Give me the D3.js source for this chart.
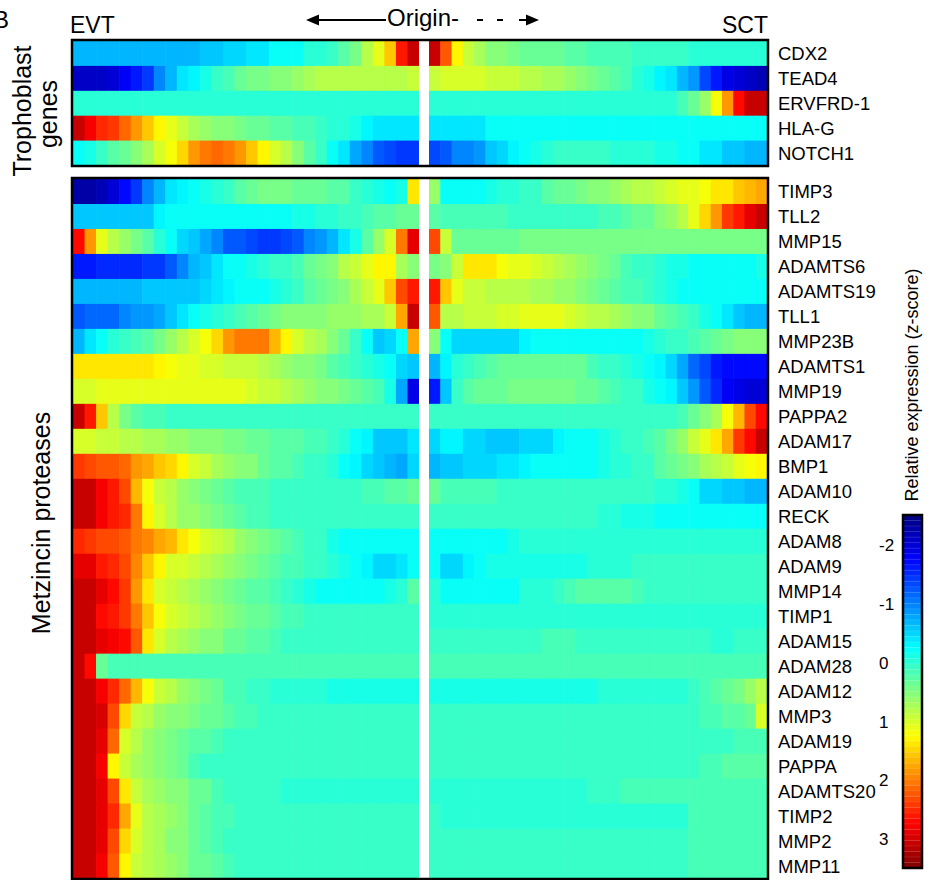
<!DOCTYPE html>
<html>
<head>
<meta charset="utf-8">
<script src="https://cdn.jsdelivr.net/npm/d3@7"></script>
<style>
  body { margin: 0; background: #fff; }
  svg text { font-family: Arial, "Liberation Sans", sans-serif; fill: #000; }
</style>
</head>
<body>
<svg id="chart" width="939" height="880"></svg>
<script>
// gene names (rows)
const trophoblastGenes = ["CDX2", "TEAD4", "ERVFRD-1", "HLA-G", "NOTCH1"];
const metzincinGenes = ["TIMP3", "TLL2", "MMP15", "ADAMTS6", "ADAMTS19", "TLL1", "MMP23B", "ADAMTS1",
  "MMP19", "PAPPA2", "ADAM17", "BMP1", "ADAM10", "RECK", "ADAM8", "ADAM9", "MMP14", "TIMP1",
  "ADAM15", "ADAM28", "ADAM12", "MMP3", "ADAM19", "PAPPA", "ADAMTS20", "TIMP2", "MMP2", "MMP11"];

// z-scores, 30 bins per side. EVT arrays run from the EVT end to the origin,
// SCT arrays from the origin to the SCT end.
const trophoblastEVT = [
  [-0.7,-0.7,-0.7,-0.7,-0.7,-0.7,-0.7,-0.7,-0.7,-0.7,-0.7,-0.55,-0.55,-0.5,-0.45,-0.35,-0.35,-0.25,-0.25,-0.2,-0.05,0,0.1,0.3,0.45,0.8,1.1,1.6,2.6,3.1],
  [-2.1,-2.1,-2.1,-2.0,-1.8,-1.6,-1.4,-1.0,-0.7,-0.4,-0.3,-0.1,0.1,0.2,0.35,0.45,0.45,0.5,0.55,0.65,0.75,0.8,0.8,0.8,0.8,0.8,0.8,0.85,0.85,0.9],
  [-0.05,-0.05,-0.05,-0.05,-0.05,-0.05,-0.05,-0.05,-0.05,-0.05,-0.05,-0.05,-0.05,-0.05,-0.05,-0.05,-0.05,-0.05,-0.05,-0.05,-0.05,-0.05,-0.05,-0.05,-0.05,-0.05,-0.05,-0.05,-0.05,-0.05],
  [3.1,2.8,2.5,2.4,2.1,1.9,1.6,1.3,1.1,0.9,0.7,0.6,0.55,0.5,0.45,0.4,0.35,0.3,0.25,0.2,0.15,0.1,0,0,-0.1,-0.3,-0.35,-0.35,-0.35,-0.35],
  [-0.25,-0.1,0.1,0.25,0.4,0.55,0.75,1.0,1.2,1.5,1.9,2.0,2.1,2.05,1.9,1.6,1.3,1.0,0.8,0.5,0.3,0.05,-0.2,-0.4,-0.8,-1.0,-1.2,-1.35,-1.4,-1.4]
];
const trophoblastSCT = [
  [3.1,2.2,1.3,0.9,0.7,0.55,0.5,0.45,0.4,0.4,0.35,0.35,0.3,0.25,0.2,0.2,0.15,0.15,0.1,0.1,0.05,0.05,0.05,0,0,0,0,0,0,0],
  [0.95,1.0,1.0,1.0,1.0,0.95,0.95,0.9,0.85,0.8,0.75,0.7,0.6,0.5,0.45,0.4,0.3,0.15,0,-0.1,-0.3,-0.4,-0.7,-0.9,-1.3,-1.6,-1.9,-2.0,-2.1,-2.2],
  [-0.05,-0.05,-0.05,-0.05,-0.05,-0.05,-0.05,-0.05,-0.05,-0.05,-0.05,-0.05,-0.05,-0.05,-0.05,-0.05,-0.05,-0.05,-0.05,-0.05,-0.05,-0.05,0.15,0.4,0.65,1.2,1.9,2.7,3.1,3.1],
  [-0.4,-0.4,-0.4,-0.4,-0.4,-0.25,-0.25,-0.25,-0.25,-0.25,-0.25,-0.25,-0.25,-0.25,-0.25,-0.25,-0.25,-0.25,-0.25,-0.25,-0.25,-0.25,-0.25,-0.25,-0.25,-0.25,-0.25,-0.25,-0.25,-0.25],
  [-1.3,-1.25,-1.0,-0.95,-0.9,-0.6,-0.5,-0.3,-0.2,-0.1,0,0.05,0.1,0.1,0.1,0.05,0,0,0,-0.05,-0.1,-0.15,-0.2,-0.25,-0.35,-0.4,-0.55,-0.55,-0.65,-0.65]
];

const metzincinEVT = [
  [-2.3,-2.3,-2.2,-2.0,-1.7,-1.4,-1.0,-0.7,-0.4,-0.3,-0.2,-0.1,0,0.1,0.3,0.4,0.45,0.45,0.45,0.4,0.4,0.35,0.3,0.25,0.1,0,-0.1,-0.2,-0.1,1.4],
  [-0.6,-0.6,-0.6,-0.6,-0.6,-0.6,-0.6,-0.3,-0.25,-0.25,-0.25,-0.25,-0.25,-0.25,-0.25,-0.25,-0.25,-0.25,-0.2,-0.15,-0.1,-0.05,0,0.05,0.1,0.2,0.25,0.3,0.35,0.4],
  [2.7,1.9,1.1,0.8,0.6,0.45,0.25,0,-0.25,-0.5,-0.6,-0.8,-1.0,-1.2,-1.2,-1.3,-1.4,-1.4,-1.3,-1.2,-1.0,-0.9,-0.7,-0.4,-0.1,0.3,0.6,1.0,2.0,2.9],
  [-1.6,-1.6,-1.55,-1.55,-1.5,-1.5,-1.4,-1.4,-1.2,-1.0,-0.7,-0.6,-0.4,-0.25,-0.2,-0.1,0,0.05,0.1,0.2,0.35,0.45,0.55,0.8,0.95,1.1,1.3,1.3,0.7,0.5],
  [-0.7,-0.7,-0.7,-0.7,-0.7,-0.7,-0.6,-0.6,-0.6,-0.6,-0.6,-0.45,-0.4,-0.3,-0.25,-0.25,-0.25,-0.15,-0.05,0.05,0.25,0.35,0.45,0.55,0.75,0.9,1.1,1.6,2.3,2.6],
  [-1.2,-1.15,-1.1,-1.1,-1.0,-0.9,-0.85,-0.8,-0.6,-0.35,-0.25,-0.15,0,0.05,0.2,0.3,0.4,0.45,0.5,0.5,0.55,0.55,0.6,0.6,0.65,0.7,0.75,0.9,1.8,3.1],
  [-0.7,-0.4,-0.25,-0.05,0.05,0.15,0.3,0.45,0.6,0.85,1.0,1.2,1.5,1.9,2.05,2.05,2.0,1.7,1.3,1.05,0.85,0.7,0.5,0.4,0.05,-0.2,-0.55,-0.45,-0.25,1.8],
  [1.4,1.4,1.4,1.4,1.4,1.4,1.4,1.3,1.2,1.15,1.1,1.0,1.0,0.95,0.95,0.9,0.8,0.7,0.65,0.55,0.5,0.45,0.3,0.2,0.1,0,-0.15,-0.25,-0.45,-0.6],
  [1.0,1.05,1.1,1.15,1.15,1.15,1.15,1.15,1.15,1.15,1.15,1.15,1.15,1.15,1.1,1.0,0.95,0.9,0.8,0.75,0.65,0.55,0.5,0.45,0.35,0.25,0.15,-0.1,-0.8,-1.9],
  [3.1,2.6,1.6,0.8,0.45,0.3,0.2,0.15,0.1,0.1,0.1,0.1,0.1,0.1,0.1,0.1,0.1,0.05,0.05,0.05,0.05,0.05,0.05,0.05,0.05,0.05,0.05,0.05,0.05,0.05],
  [1.0,1.0,0.95,0.9,0.85,0.8,0.75,0.7,0.65,0.6,0.55,0.5,0.5,0.45,0.45,0.4,0.35,0.3,0.3,0.25,0.2,0.15,0.05,0,-0.25,-0.3,-0.55,-0.6,-0.55,-0.35],
  [2.45,2.3,2.2,2.2,2.15,1.9,1.75,1.6,1.45,1.25,1.05,0.9,0.75,0.65,0.55,0.5,0.4,0.3,0.25,0.2,0.1,0.05,-0.05,-0.2,-0.3,-0.45,-0.55,-0.65,-0.8,-0.5],
  [3.1,3.1,2.8,2.65,2.3,1.7,1.2,0.95,0.8,0.65,0.55,0.45,0.4,0.3,0.2,0.15,0.15,0.1,0.1,0.1,0.05,0.05,0.05,0.1,0.1,0.15,0.2,0.3,0.3,0.35],
  [3.1,3.1,2.8,2.6,2.5,2.0,1.3,1.0,0.8,0.65,0.6,0.5,0.45,0.35,0.3,0.2,0.15,0.1,0.05,0.05,0.05,0.05,0.05,0.05,0.05,0.05,0.05,0.05,0.05,0.05],
  [2.5,2.4,2.3,2.3,2.25,2.0,1.95,1.75,1.65,1.4,1.2,1.0,0.9,0.8,0.65,0.55,0.45,0.35,0.3,0.2,0.1,0.05,-0.1,-0.2,-0.25,-0.25,-0.25,-0.25,-0.25,-0.25],
  [2.9,2.85,2.6,2.5,2.35,1.95,1.6,1.3,1.05,1.0,0.95,0.85,0.7,0.6,0.5,0.45,0.4,0.3,0.2,0.15,0.1,0.1,0,-0.1,-0.25,-0.3,-0.45,-0.45,-0.4,-0.25],
  [3.1,3.1,2.9,2.7,2.4,1.9,1.4,1.05,0.9,0.8,0.7,0.6,0.5,0.45,0.4,0.3,0.25,0.15,0.05,0,-0.15,-0.25,-0.25,-0.25,-0.25,-0.25,-0.25,-0.15,0,0.3],
  [3.1,3.1,2.7,2.6,2.45,2.0,1.6,1.2,1.0,0.9,0.8,0.7,0.6,0.5,0.45,0.4,0.35,0.3,0.2,0.15,0.1,0.05,0.05,0.05,0.05,0.05,0.05,0.05,0.05,0.05],
  [3.1,3.1,2.9,2.8,2.7,2.2,1.4,1.0,0.85,0.75,0.65,0.55,0.5,0.4,0.35,0.3,0.25,0.15,0.1,0.05,0.05,0.05,0.05,0.05,0.05,0.05,0.05,0.05,0.05,0.05],
  [3.1,2.7,0.35,0.2,0.2,0.2,0.2,0.2,0.2,0.2,0.2,0.2,0.2,0.2,0.2,0.2,0.2,0.2,0.2,0.2,0.2,0.2,0.2,0.2,0.2,0.2,0.2,0.2,0.2,0.2],
  [3.1,3.1,2.8,2.5,2.1,1.7,1.2,0.95,0.8,0.6,0.5,0.45,0.35,0.2,0.15,0.1,0.05,0,0,0,-0.05,-0.05,-0.1,-0.1,-0.1,-0.1,-0.1,-0.1,-0.1,-0.1],
  [3.1,3.1,3.0,2.3,1.5,0.95,0.8,0.65,0.55,0.5,0.45,0.4,0.35,0.25,0.2,0.15,0.1,0.05,0.05,0.05,0.05,0.05,0.05,0.05,0.05,0.05,0.05,0.05,0.05,0.05],
  [3.1,3.1,2.9,2.1,1.0,0.8,0.65,0.55,0.45,0.4,0.3,0.25,0.15,0.1,0.05,0.05,0.05,0.05,0.05,0.05,0.05,0.05,0.05,0.05,0.05,0.05,0.05,0.05,0.05,0.05],
  [3.1,3.1,2.8,1.3,0.9,0.75,0.65,0.55,0.45,0.35,0.2,0.1,0.05,0.05,0.05,0.05,0.05,0.05,0.05,0.05,0.05,0.05,0.05,0.05,0.05,0.05,0.05,0.05,0.05,0.05],
  [3.1,3.1,2.9,2.3,1.4,0.95,0.75,0.65,0.55,0.5,0.4,0.35,0.2,0.05,0.05,0.05,0.05,0.05,-0.05,-0.05,-0.05,-0.05,-0.05,-0.05,-0.05,-0.05,-0.05,-0.05,-0.05,-0.05],
  [3.1,3.1,2.9,2.5,1.8,1.1,0.85,0.7,0.6,0.5,0.35,0.25,0.2,0.15,0.1,0.1,0.05,0.05,0.05,0.05,0.05,0.05,0.05,0.05,0.05,0.05,0.05,0.05,0.05,0.05],
  [3.1,3.1,2.9,2.3,1.5,1.0,0.8,0.7,0.55,0.5,0.4,0.3,0.15,0.05,0.05,0.05,0.05,0.05,0.05,0.05,0.05,0.05,0.05,0.05,0.05,0.05,0.05,0.05,0.05,0.05],
  [3.1,3.1,2.8,2.2,1.3,0.95,0.8,0.7,0.6,0.5,0.4,0.35,0.25,0.15,0.05,0.05,0.05,0.05,0.05,0.05,0.05,0.05,0.05,0.05,0.05,0.05,0.05,0.05,0.05,0.05]
];
const metzincinSCT = [
  [0.6,-0.25,-0.25,-0.25,-0.2,-0.1,-0.05,0,0.05,0.1,0.25,0.35,0.4,0.45,0.5,0.55,0.65,0.75,0.8,0.85,0.9,1.0,1.1,1.15,1.2,1.35,1.4,1.6,1.7,1.8],
  [0.3,0.2,0.15,0.15,0.15,0.15,0.15,0.1,0.1,0.1,0.1,0.1,0.1,0.1,0.1,0.15,0.2,0.25,0.35,0.4,0.5,0.6,0.8,1.1,1.5,1.9,2.4,2.6,2.9,3.1],
  [2.3,0.9,0.4,0.35,0.35,0.35,0.35,0.4,0.45,0.45,0.45,0.45,0.45,0.45,0.45,0.45,0.45,0.45,0.45,0.45,0.45,0.45,0.45,0.45,0.45,0.45,0.45,0.45,0.45,0.45],
  [0.45,0.55,0.9,1.4,1.4,1.4,1.2,1.15,1.1,1.0,0.9,0.85,0.75,0.6,0.5,0.45,0.35,0.2,0.1,0.05,0,-0.1,-0.15,-0.2,-0.25,-0.25,-0.25,-0.25,-0.25,-0.1],
  [2.6,1.6,1.1,0.95,0.9,0.85,0.85,0.8,0.8,0.75,0.7,0.65,0.6,0.5,0.45,0.4,0.3,0.2,0.15,0.1,0,-0.1,-0.2,-0.25,-0.25,-0.25,-0.25,-0.25,-0.25,-0.25],
  [2.2,0.85,0.85,0.9,0.9,0.95,1.0,1.05,1.1,1.15,1.15,1.15,1.05,0.95,0.85,0.8,0.7,0.6,0.55,0.5,0.4,0.3,0.2,0.05,-0.1,-0.25,-0.4,-0.55,-0.7,-0.7],
  [0.5,-0.2,-0.45,-0.45,-0.45,-0.45,-0.45,-0.45,-0.3,-0.25,-0.25,-0.25,-0.25,-0.25,-0.25,-0.25,-0.25,-0.25,-0.2,-0.1,0,0.05,0.1,0.2,0.3,0.35,0.45,0.5,0.5,0.5],
  [-0.7,-0.3,0,0.1,0.2,0.3,0.4,0.4,0.4,0.4,0.4,0.4,0.4,0.35,0.2,0.1,0.05,0,-0.1,-0.25,-0.3,-0.5,-0.75,-1.1,-1.3,-1.6,-1.75,-1.75,-1.75,-1.75],
  [-1.6,-0.6,0.1,0.25,0.35,0.4,0.4,0.45,0.45,0.45,0.45,0.45,0.45,0.4,0.35,0.3,0.2,0.1,0.05,-0.1,-0.25,-0.3,-0.6,-0.9,-1.2,-1.5,-1.8,-1.9,-2.0,-2.0],
  [0.05,0.05,0.05,0.05,0.05,0.05,0.05,0.05,0.05,0.05,0.05,0.05,0.05,0.05,0.05,0.05,0.05,0.05,0.05,0.05,0.05,0.1,0.2,0.35,0.5,0.7,1.2,1.7,2.3,2.7],
  [-0.45,-0.3,-0.3,-0.5,-0.5,-0.55,-0.6,-0.6,-0.5,-0.45,-0.45,-0.3,-0.25,-0.25,-0.25,-0.1,0,0.05,0.1,0.15,0.3,0.45,0.6,0.9,1.1,1.4,1.8,2.4,2.7,3.1],
  [-0.7,-0.6,-0.6,-0.5,-0.45,-0.45,-0.4,-0.35,-0.3,-0.25,-0.25,-0.25,-0.25,-0.25,-0.25,-0.15,-0.05,0,0.05,0.1,0.25,0.35,0.45,0.55,0.7,0.85,0.95,1.1,1.2,1.3],
  [0.35,0.2,0.15,0.15,0.15,0.15,0.1,0.1,0.1,0.1,0.1,0.1,0.1,0.1,0.1,0.05,0.05,0.05,0.05,0.05,0,-0.05,-0.1,-0.2,-0.45,-0.45,-0.6,-0.6,-0.7,-0.7],
  [0.05,0.05,0.05,0.05,0.1,0.1,0.1,0.1,0.1,0.1,0.1,0.05,0.05,0.05,0.05,0,-0.05,-0.1,-0.1,-0.15,-0.25,-0.25,-0.25,-0.25,-0.25,-0.25,-0.25,-0.25,-0.25,-0.25],
  [-0.25,-0.25,-0.25,-0.25,-0.25,-0.25,-0.25,-0.15,-0.05,-0.05,-0.05,-0.05,-0.05,-0.05,-0.05,-0.05,0,0,0,0,0,0,0,0,0,0,0,0,0,0],
  [-0.25,-0.45,-0.45,-0.3,-0.2,-0.15,-0.15,-0.15,-0.15,-0.15,-0.15,-0.15,-0.1,-0.1,-0.05,-0.05,0,0,0.05,0.05,0.05,0.1,0.1,0.1,0.1,0.1,0.1,0.1,0.1,0.1],
  [0,-0.25,-0.25,-0.25,-0.2,-0.2,-0.2,-0.2,-0.05,-0.05,-0.05,0.1,0.2,0.25,0.25,0.25,0.25,0.25,0.2,0.1,0.05,0.05,0.05,0.05,0.05,0.05,0.05,0.05,0.05,0.05],
  [0,0,0,0,0,0,0,0,0,0,0,0,0,0,0,0,0,0,0,0,0,0,0,0,0,0,0,0,0,0],
  [0.05,0.05,0.1,0.1,0.1,0.1,0.1,0.05,0.05,0.1,0.15,0.15,0.15,0.1,0.1,0.05,0.05,0.05,0.05,0.05,0.05,0.05,0.05,0.05,0.05,0,0,0.05,0.05,0.05],
  [0.2,0.2,0.2,0.2,0.2,0.2,0.2,0.2,0.2,0.2,0.2,0.2,0.2,0.2,0.2,0.2,0.2,0.2,0.2,0.2,0.2,0.2,0.2,0.2,0.2,0.2,0.2,0.2,0.2,0.2],
  [-0.15,-0.15,-0.15,-0.15,-0.15,-0.15,-0.15,-0.15,-0.15,-0.15,-0.15,-0.15,-0.15,-0.15,-0.15,0,0,0,0,0,0,0,0,0.05,0.15,0.3,0.35,0.45,0.6,0.85],
  [0.05,0.05,0.05,0.05,0.05,0.05,0.05,0.05,0.05,0.05,0.05,0.05,0.05,0.05,0.05,0.05,0.05,0.05,0.05,0.05,0.05,0.05,0.05,0.1,0.15,0.2,0.25,0.3,0.4,1.0],
  [0.05,0.05,0.05,0.05,0.05,0.05,0.05,0.05,0.05,0.05,0.05,0.05,0.05,0.05,0.05,0.05,0.05,0.05,0.05,0.05,0.05,0.05,0.05,0.05,0.05,0.1,0.1,0.15,0.15,0.15],
  [0.05,0.05,0.05,0.05,0.05,0.05,0.05,0.05,0.05,0.05,0.05,0.05,0.05,0.05,0.05,0.05,0.05,0.05,0.05,0.05,0.05,0.05,0.05,0.05,0.15,0.15,0.25,0.3,0.3,0.3],
  [-0.05,-0.05,-0.05,-0.05,-0.05,-0.05,-0.05,-0.05,-0.05,0,0,0,0,0,0.05,0.1,0.1,0.15,0.15,0.2,0.2,0.2,0.2,0.2,0.2,0.2,0.2,0.2,0.2,0.2],
  [0.05,-0.05,-0.05,-0.05,-0.05,-0.05,-0.05,0,0,0,0,0,0,0,0,0,0,0,0,0,0,0,0,0.15,0.2,0.2,0.2,0.2,0.2,0.2],
  [0.05,0.05,0.05,0.05,0.05,0.05,0.05,0.05,0.05,0.05,0.05,0.05,0.05,0.05,0.05,0.05,0.05,0.05,0.05,0.05,0.05,0.1,0.1,0.15,0.15,0.2,0.2,0.2,0.2,0.2],
  [0.05,0.05,0.05,0.05,0.05,0.05,0.05,0.05,0.05,0.05,0.05,0.05,0.05,0.05,0.05,0.05,0.05,0.05,0.05,0.05,0.1,0.1,0.1,0.15,0.15,0.15,0.2,0.2,0.2,0.2]
];

// colour bar
const zDomain = [-2.5, 3.5];
const colorbarTicks = [-2, -1, 0, 1, 2, 3];

// MATLAB style jet, 64 steps
function jet(t) {
  const k = Math.min(63, Math.max(0, Math.floor(t * 64)));
  const u = (k + 0.5) / 64;
  const f = x => Math.max(0, Math.min(1, 1.5 - Math.abs(4 * u - x)));
  return d3.rgb(f(3) * 255, f(2) * 255, f(1) * 255).toString();
}
const color = d3.scaleSequential(jet).domain(zDomain);

const svg = d3.select("#chart");
const font = "Arial, 'Liberation Sans', sans-serif";

const left = 72, right = 768, gapL = 419, gapR = 429;
const nBins = 30;
const xEVT = d3.scaleBand().domain(d3.range(nBins)).range([left + 1, gapL]);
const xSCT = d3.scaleBand().domain(d3.range(nBins)).range([gapR, right - 1]);

const yTop = d3.scaleBand().domain(trophoblastGenes).range([41, 165.5]);
const yBot = d3.scaleBand().domain(metzincinGenes).range([179, 878.5]);

// draw one panel (both halves)
function drawPanel(genes, evt, sct, y, top, bottom) {
  const cells = [];
  genes.forEach((g, r) => {
    evt[r].forEach((v, c) => cells.push({ g, c, v, x: xEVT }));
    sct[r].forEach((v, c) => cells.push({ g, c, v, x: xSCT }));
  });
  const g = svg.append("g");
  g.selectAll("rect")
    .data(cells)
    .enter()
    .append("rect")
    .attr("x", d => d.x(d.c))
    .attr("y", d => y(d.g))
    .attr("width", d => d.x.bandwidth() + 0.6)
    .attr("height", y.bandwidth() + 0.6)
    .attr("fill", d => color(d.v));

  // white gap at the origin
  g.append("rect")
    .attr("x", gapL).attr("y", top)
    .attr("width", gapR - gapL).attr("height", bottom - top)
    .attr("fill", "#fff");

  g.append("rect")
    .attr("x", left).attr("y", top)
    .attr("width", right - left).attr("height", bottom - top)
    .attr("fill", "none")
    .attr("stroke", "#000")
    .attr("stroke-width", 2.5);

  // gene labels
  const ax = svg.append("g")
    .attr("transform", `translate(${right},0)`)
    .call(d3.axisRight(y).tickSize(0).tickPadding(10));
  ax.select(".domain").remove();
  ax.selectAll("text")
    .style("font-family", font)
    .style("font-size", "18.5px")
    .attr("dy", "0.36em");
}

drawPanel(trophoblastGenes, trophoblastEVT, trophoblastSCT, yTop, 40, 166);
drawPanel(metzincinGenes, metzincinEVT, metzincinSCT, yBot, 178, 879);

// header
svg.append("text").attr("x", 9).attr("y", 28).attr("text-anchor", "end")
  .style("font-size", "24px").text("B");
svg.append("text").attr("x", 70).attr("y", 33)
  .style("font-size", "23px").text("EVT");
svg.append("text").attr("x", 768).attr("y", 33).attr("text-anchor", "end")
  .style("font-size", "23px").text("SCT");
svg.append("text").attr("x", 387).attr("y", 26)
  .style("font-size", "24px").text("Origin-");

// arrows around "Origin"
svg.append("line").attr("x1", 316).attr("x2", 386).attr("y1", 20).attr("y2", 20)
  .attr("stroke", "#000").attr("stroke-width", 2);
svg.append("path").attr("d", "M306,20L319,14.5L319,25.5Z").attr("fill", "#000");
svg.append("path").attr("d", "M477,20H483M497,20H503M519,20H530")
  .attr("stroke", "#000").attr("stroke-width", 2);
svg.append("path").attr("d", "M539,20L526,14.5L526,25.5Z").attr("fill", "#000");

// side titles
svg.append("text")
  .attr("transform", "translate(31,111) rotate(-90)")
  .attr("text-anchor", "middle")
  .style("font-size", "25px").text("Trophoblast");
svg.append("text")
  .attr("transform", "translate(57,114) rotate(-90)")
  .attr("text-anchor", "middle")
  .style("font-size", "25px").text("genes");
svg.append("text")
  .attr("transform", "translate(50,523) rotate(-90)")
  .attr("text-anchor", "middle")
  .style("font-size", "25px").text("Metzincin proteases");

// colour bar
const cbY = d3.scaleLinear().domain(zDomain).range([515, 868]);
const cbSteps = d3.range(64).map(i => zDomain[0] + (i + 0.5) * (zDomain[1] - zDomain[0]) / 64);
const stepH = (cbY(zDomain[1]) - cbY(zDomain[0])) / 64;
svg.append("g").selectAll("rect")
  .data(cbSteps)
  .enter()
  .append("rect")
  .attr("x", 903)
  .attr("y", d => cbY(d) - stepH / 2)
  .attr("width", 19)
  .attr("height", stepH + 0.3)
  .attr("fill", d => color(d));
svg.append("g").selectAll("line")
  .data(cbSteps.slice(1))
  .enter()
  .append("line")
  .attr("x1", 903).attr("x2", 922)
  .attr("y1", d => cbY(d) - stepH / 2).attr("y2", d => cbY(d) - stepH / 2)
  .attr("stroke", "#fff").attr("stroke-opacity", 0.18).attr("stroke-width", 0.6);
svg.append("rect")
  .attr("x", 903).attr("y", 515).attr("width", 19).attr("height", 353)
  .attr("fill", "none").attr("stroke", "#000").attr("stroke-width", 2.5);

const cbAxis = svg.append("g")
  .attr("transform", "translate(879,0)")
  .call(d3.axisRight(cbY).tickValues(colorbarTicks).tickSize(0).tickPadding(0).tickFormat(d => String(d)));
cbAxis.select(".domain").remove();
cbAxis.selectAll("text")
  .style("font-family", font)
  .style("font-size", "17px")
  .attr("dy", "0.36em");

svg.append("text")
  .attr("transform", "translate(918,385) rotate(-90)")
  .attr("text-anchor", "middle")
  .style("font-size", "18px").text("Relative expression (z-score)");
</script>
</body>
</html>
